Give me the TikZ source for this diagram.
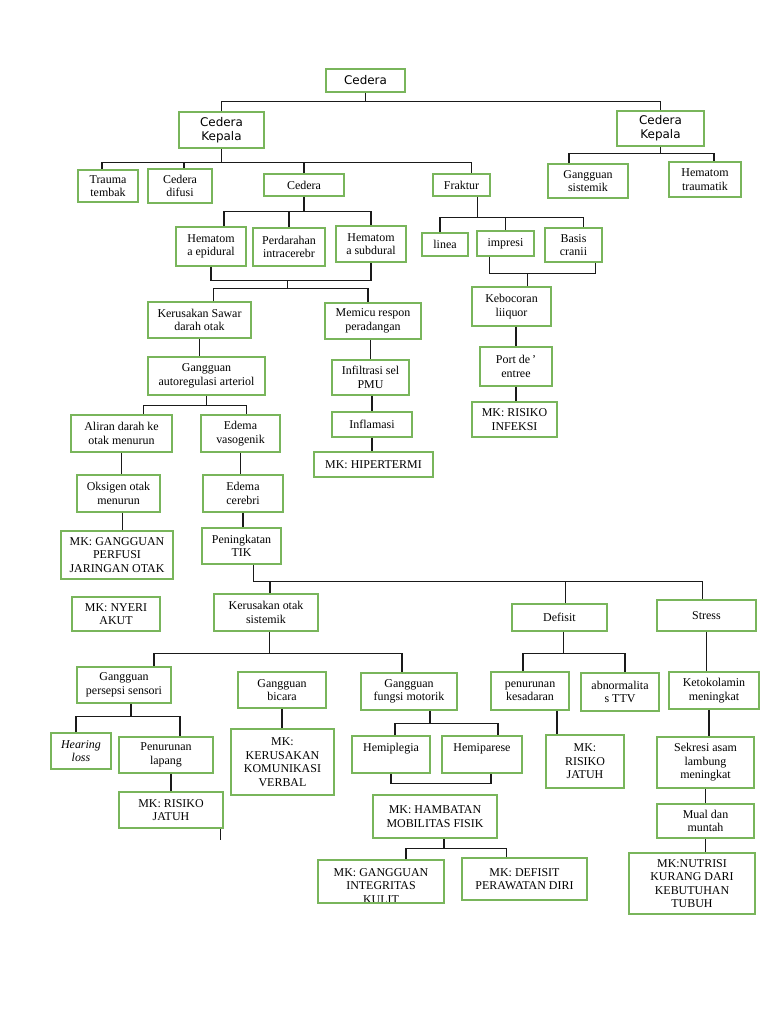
\documentclass[tikz,border=0pt]{standalone}
\usepackage{fontspec}
\setmainfont{Liberation Serif}
\newfontfamily\kepalafont{DejaVu Sans}
\usepackage{tikz}
\definecolor{BoxGreen}{HTML}{79B55B}
\definecolor{LinkBlack}{HTML}{1A1A1A}

\begin{document}
\begin{tikzpicture}[x=0.025cm,y=-0.025cm,
  box/.style={draw=BoxGreen,line width=1.3pt,align=center,inner sep=1pt,font=\fontsize{8.5}{9.6}\selectfont},
  sbox/.style={box,font=\kepalafont\fontsize{8.5}{10}\selectfont},
  sz/.style 2 args={minimum width=#1*0.025cm,minimum height=#2*0.025cm},
  link/.style={draw=LinkBlack,line width=0.75pt}]
\path[use as bounding box] (0,0) rectangle (768,1024);
% top levels
\node[sbox,sz={79}{23}] (cedera) at (365.5,80.5) {Cedera};
\node[sbox,sz={85}{36}] (kepalaL) at (221.5,130) {Cedera\\Kepala};
\node[sbox,sz={87}{35}] (kepalaR) at (660.5,128.5) {Cedera\\Kepala};
\node[box,sz={60}{32}] (trauma) at (108,186) {Trauma\\tembak};
\node[box,sz={64}{34}] (difusi) at (180,186) {Cedera\\difusi};
\node[box,sz={80}{22}] (cederaB) at (304,185) {Cedera};
\node[box,sz={57}{22}] (fraktur) at (461.5,185) {Fraktur};
\node[box,sz={80}{34}] (gsistemik) at (588,181) {Gangguan\\sistemik};
\node[box,sz={72}{35}] (htraumatik) at (705,179.5) {Hematom\\traumatik};
\node[box,sz={70}{39}] (hepi) at (211,246.5) {Hematom\\a epidural};
\node[box,sz={72}{38}] (perda) at (289,247) {Perdarahan\\intracerebr};
\node[box,sz={70}{36}] (hsub) at (371,244) {Hematom\\a subdural};
\node[box,sz={46}{23}] (linea) at (445,244.5) {linea};
\node[box,sz={57}{25}] (impresi) at (505.5,243.5) {impresi};
\node[box,sz={57}{34}] (basis) at (573.5,245) {Basis\\cranii};
% fraktur branch
\node[box,sz={79}{39}] (kebocoran) at (511.5,306.5) {Kebocoran\\liiquor};
\node[box,sz={72}{39}] (port) at (516,366.5) {Port de\,'\\entree};
\node[box,sz={85}{35}] (mkinfeksi) at (514.5,419.5) {MK: RISIKO\\INFEKSI};
% hematom branch
\node[box,sz={103}{36}] (ksawar) at (199.5,320) {Kerusakan Sawar\\darah otak};
\node[box,sz={96}{36}] (memicu) at (373,321) {Memicu respon\\peradangan};
\node[box,sz={117}{38}] (gauto) at (206.5,376) {Gangguan\\autoregulasi arteriol};
\node[box,sz={77}{35}] (infiltrasi) at (370.5,377.5) {Infiltrasi sel\\PMU};
\node[box,sz={80}{25}] (inflamasi) at (372,424.5) {Inflamasi};
\node[box,sz={119}{25}] (hipertermi) at (373.5,464.5) {MK: HIPERTERMI};
\node[box,sz={101}{37}] (aliran) at (121.5,433.5) {Aliran darah ke\\otak menurun};
\node[box,sz={79}{37}] (edemav) at (240.5,433.5) {Edema\\vasogenik};
\node[box,sz={83}{37}] (oksigen) at (118.5,493.5) {Oksigen otak\\menurun};
\node[box,sz={80}{37}] (edemac) at (243,493.5) {Edema\\cerebri};
\node[box,sz={112}{48}] (mkperfusi) at (117,555) {MK: GANGGUAN\\PERFUSI\\JARINGAN OTAK};
\node[box,sz={88}{34}] (mknyeri) at (116,614) {MK: NYERI\\AKUT};
\node[box,sz={79}{36}] (tik) at (241.5,546) {Peningkatan\\TIK};
% TIK branch
\node[box,sz={104}{37}] (kotak) at (266,612.5) {Kerusakan otak\\sistemik};
\node[box,sz={95}{27}] (defisit) at (559.5,617.5) {Defisit};
\node[box,sz={99}{31}] (stress) at (706.5,615.5) {Stress};
\node[box,sz={94}{36}] (gpersepsi) at (124,685) {Gangguan\\persepsi sensori};
\node[box,sz={88}{36}] (gbicara) at (282,690) {Gangguan\\bicara};
\node[box,sz={96}{37}] (gmotorik) at (409,691.5) {Gangguan\\fungsi motorik};
\node[box,sz={78}{38}] (pkesadaran) at (530,691) {penurunan\\kesadaran};
\node[box,sz={78}{38}] (abnorm) at (620,692) {abnormalita\\s TTV};
\node[box,sz={90}{37}] (keto) at (714,690.5) {Ketokolamin\\meningkat};
\node[box,sz={60}{36}] (hearing) at (81,751) {\textit{Hearing}\\\textit{loss}};
\node[box,sz={94}{36}] (plapang) at (166,755) {Penurunan\\lapang};
\node[box,sz={103}{66}] (mkverbal) at (282.5,762) {MK:\\KERUSAKAN\\KOMUNIKASI\\VERBAL};
\node[box,sz={78}{37}] (hemiplegia) at (391,754.5) {Hemiplegia\\~};
\node[box,sz={80}{37}] (hemiparese) at (482,754.5) {Hemiparese\\~};
\node[box,sz={78}{53}] (mkjatuh2) at (585,761.5) {MK:\\RISIKO\\JATUH};
\node[box,sz={97}{51}] (sekresi) at (705.5,762.5) {Sekresi asam\\lambung\\meningkat};
\node[box,sz={104}{36}] (mkjatuh1) at (171,810) {MK: RISIKO\\JATUH};
\node[box,sz={124}{43}] (mkhambatan) at (435,816.5) {MK: HAMBATAN\\MOBILITAS FISIK};
\node[box,sz={97}{34}] (mual) at (705.5,821) {Mual dan\\muntah};
\node[box,sz={126}{43},path picture={\node[align=center,font=\fontsize{8.5}{9.6}\selectfont,anchor=north] at ([yshift=-0.08cm]path picture bounding box.north) {MK: GANGGUAN\\INTEGRITAS\\KULIT};}] (mkkulit) at (381,881.5) {};
\node[box,sz={125}{42}] (mkdefisit) at (524.5,879) {MK: DEFISIT\\PERAWATAN DIRI};
\node[box,sz={126}{61}] (nutrisi) at (692,883.5) {MK:NUTRISI\\KURANG DARI\\KEBUTUHAN\\TUBUH};
% connectors, top
\draw[link] (cedera.south) -- ++(0,9) coordinate (c1) -| (kepalaR.north);
\draw[link] (c1) -| (kepalaL.north);
\draw[link] (kepalaL.south) -- ++(0,14) coordinate (k1);
\draw[link] ([xshift=-0.15cm]trauma.north) |- (k1) -| ([xshift=0.25cm]fraktur.north);
\draw[link] ([xshift=0.1cm]difusi.north) -- ([xshift=0.1cm]difusi.north |- k1);
\draw[link] (cederaB.north) -- (cederaB.north |- k1);
\draw[link] (kepalaR.south) -- ++(0,7) coordinate (k2);
\draw[link] ([xshift=-0.475cm]gsistemik.north) |- (k2) -| ([xshift=0.225cm]htraumatik.north);
\draw[link] (cederaB.south) -- ++(0,15) coordinate (k3);
\draw[link] ([xshift=0.325cm]hepi.north) |- (k3) -| (hsub.north);
\draw[link] (perda.north) -- (perda.north |- k3);
\draw[link] ([xshift=0.41cm]fraktur.south) -- ++(0,21) coordinate (k4);
\draw[link] ([xshift=-0.125cm]linea.north) |- (k4) -| ([xshift=0.26cm]basis.north);
\draw[link] (impresi.north) -- (impresi.north |- k4);
% fraktur branch
\draw[link] ([xshift=-0.41cm]impresi.south) -- ++(0,17) coordinate (k5) -| ([xshift=0.56cm]basis.south);
\draw[link] ([xshift=0.39cm]kebocoran.north) -- ([xshift=0.39cm]kebocoran.north |- k5);
\draw[link] (port.north |- kebocoran.south) -- (port.north);
\draw[link] (port.south) -- (port.south |- mkinfeksi.north);
% hematom branch
\draw[link] (hepi.south) -- ++(0,14) coordinate (k6) -| (hsub.south);
\draw[link] ([xshift=-0.04cm]perda.south |- k6) -- ++(0,8) coordinate (k7);
\draw[link] ([xshift=0.34cm]ksawar.north) |- (k7) -| ([xshift=-0.125cm]memicu.north);
\draw[link] (ksawar.south) -- (ksawar.south |- gauto.north);
\draw[link] (infiltrasi.north |- memicu.south) -- (infiltrasi.north);
\draw[link] (inflamasi.north |- infiltrasi.south) -- (inflamasi.north);
\draw[link] (inflamasi.south) -- (inflamasi.south |- hipertermi.north);
\draw[link] (gauto.south) -- ++(0,10) coordinate (k8);
\draw[link] ([xshift=0.56cm]aliran.north) |- (k8) -| ([xshift=0.14cm]edemav.north);
\draw[link] (aliran.south) -- (aliran.south |- oksigen.north);
\draw[link] ([xshift=0.09cm]oksigen.south) -- ([xshift=0.09cm]oksigen.south |- mkperfusi.north);
\draw[link] (edemav.south) -- (edemav.south |- edemac.north);
\draw[link] (edemac.south) -- (edemac.south |- tik.north);
% TIK branch
\draw[link] ([xshift=0.31cm]tik.south) -- ++(0,17) coordinate (k9) -| ([xshift=-0.09cm]stress.north);
\draw[link] ([xshift=0.1cm]kotak.north) -- ([xshift=0.1cm]kotak.north |- k9);
\draw[link] ([xshift=0.14cm]defisit.north) -- ([xshift=0.14cm]defisit.north |- k9);
\draw[link] ([xshift=0.08cm]kotak.south) -- ++(0,22) coordinate (k10);
\draw[link] ([xshift=0.75cm]gpersepsi.north) |- (k10) -| ([xshift=-0.175cm]gmotorik.north);
\draw[link] ([xshift=0.175cm]gpersepsi.south) -- ++(0,13) coordinate (k11);
\draw[link] ([xshift=-0.125cm]hearing.north) |- (k11) -| ([xshift=0.35cm]plapang.north);
\draw[link] (mkjatuh1.north |- plapang.south) -- (mkjatuh1.north);
\draw[link] ([xshift=-0.075cm]mkjatuh1.south east) -- ++(0,11);
\draw[link] (gbicara.south) -- (gbicara.south |- mkverbal.north);
\draw[link] ([xshift=0.525cm]gmotorik.south) -- ++(0,13) coordinate (k12);
\draw[link] ([xshift=0.1cm]hemiplegia.north) |- (k12) -| ([xshift=0.4cm]hemiparese.north);
\draw[link] (hemiplegia.south) -- ++(0,10) -| ([xshift=0.225cm]hemiparese.south);
\draw[link] ([xshift=0.225cm]mkhambatan.south) -- ++(0,10) coordinate (k13);
\draw[link] ([xshift=0.625cm]mkkulit.north) |- (k13) -| ([xshift=-0.44cm]mkdefisit.north);
\draw[link] ([xshift=0.11cm]defisit.south) -- ++(0,22) coordinate (k14);
\draw[link] ([xshift=-0.175cm]pkesadaran.north) |- (k14) -| ([xshift=0.125cm]abnorm.north);
\draw[link] ([xshift=0.675cm]pkesadaran.south) -- ([xshift=0.675cm]pkesadaran.south |- mkjatuh2.north);
\draw[link] (stress.south) -- (stress.south |- keto.north);
\draw[link] ([xshift=-0.125cm]keto.south) -- ([xshift=-0.125cm]keto.south |- sekresi.north);
\draw[link] (sekresi.south) -- (sekresi.south |- mual.north);
\draw[link] (mual.south) -- (mual.south |- nutrisi.north);
\end{tikzpicture}
\end{document}
